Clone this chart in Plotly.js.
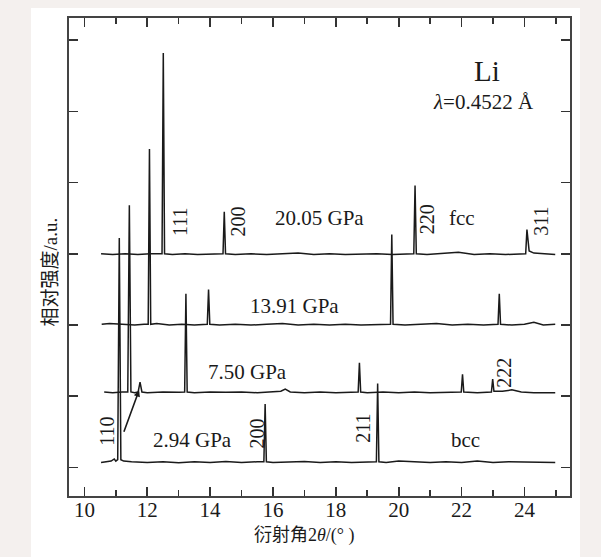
<!DOCTYPE html>
<html>
<head>
<meta charset="utf-8">
<script src="https://cdn.plot.ly/plotly-3.0.1.min.js"></script>
<style>html,body{margin:0;padding:0;background:#f4f0ee;}#chart{width:601px;height:557px;}</style>
</head>
<body>
<div id="chart"></div>
<script>
// 2.94 GPa (bcc)
const x294 = [10.53,10.7,10.85,10.95,11.0,11.06,11.11,11.16,11.25,11.5,12.0,12.5,13.0,13.5,14.0,14.5,15.0,15.5,15.71,15.75,15.79,16.0,16.5,17.0,17.5,18.0,18.5,19.0,19.29,19.33,19.37,19.6,20.0,20.5,21.0,21.5,22.0,22.5,23.0,23.5,24.0,24.5,24.98];
const y294 = [0.07,0.08,0.09,0.12,0.09,0.11,3.22,0.11,0.09,0.08,0.07,0.08,0.065,0.08,0.07,0.085,0.07,0.08,0.08,0.89,0.08,0.07,0.08,0.085,0.07,0.08,0.07,0.08,0.08,1.18,0.08,0.07,0.09,0.08,0.07,0.08,0.07,0.09,0.07,0.08,0.075,0.08,0.07];
// 7.50 GPa
const x750 = [10.63,10.9,11.2,11.38,11.43,11.48,11.6,11.71,11.77,11.83,12.0,12.5,13.0,13.19,13.23,13.27,13.5,14.0,14.5,15.0,15.5,16.0,16.25,16.39,16.55,17.0,17.5,18.0,18.5,18.71,18.75,18.79,19.0,19.5,20.0,20.5,21.0,21.5,21.99,22.03,22.07,22.5,22.95,22.99,23.03,23.3,23.6,23.9,24.3,24.98];
const y750 = [1.06,1.05,1.06,1.06,3.68,1.06,1.05,1.06,1.20,1.06,1.05,1.06,1.055,1.06,2.44,1.06,1.05,1.06,1.055,1.06,1.05,1.06,1.07,1.10,1.06,1.05,1.06,1.05,1.06,1.06,1.47,1.06,1.05,1.06,1.05,1.06,1.05,1.06,1.06,1.31,1.06,1.05,1.06,1.24,1.07,1.07,1.09,1.06,1.05,1.05];
// 13.91 GPa
const x1391 = [10.55,10.8,11.2,11.6,11.9,12.03,12.07,12.11,12.3,12.7,13.1,13.5,13.91,13.95,13.99,14.3,14.8,15.3,15.8,16.3,16.8,17.3,17.8,18.3,18.8,19.3,19.74,19.78,19.82,20.2,20.7,21.2,21.7,22.2,22.7,23.16,23.2,23.24,23.6,24.0,24.3,24.6,24.98];
const y1391 = [2.01,2.02,2.01,2.0,2.01,2.01,4.47,2.01,2.02,2.0,2.01,2.0,2.01,2.50,2.01,2.0,2.01,2.0,2.01,2.02,2.0,2.01,2.0,2.01,2.0,2.01,2.01,3.27,2.01,2.0,2.01,2.02,2.0,2.01,2.0,2.01,2.44,2.01,2.0,2.01,2.04,2.0,2.01];
// 20.05 GPa (fcc)
const x2005 = [10.53,10.9,11.3,11.7,12.1,12.47,12.51,12.55,12.8,13.2,13.6,14.0,14.41,14.45,14.49,14.8,15.3,15.8,16.3,16.8,17.3,17.8,18.3,18.8,19.3,19.8,20.2,20.48,20.52,20.56,20.9,21.4,21.9,22.4,22.9,23.4,23.8,24.04,24.08,24.15,24.3,24.6,24.98];
const y2005 = [3.0,2.99,3.0,2.99,3.0,3.0,5.82,3.0,2.99,3.0,2.99,3.0,3.0,3.59,3.0,2.99,3.0,2.99,3.0,3.01,2.99,3.0,2.99,3.0,3.0,2.99,3.0,3.0,3.96,3.0,2.99,3.0,3.02,2.99,3.0,2.99,3.0,3.0,3.34,3.04,3.01,3.0,2.99];

const series = [[x294,y294],[x750,y750],[x1391,y1391],[x2005,y2005]];
const xTicks = [10,12,14,16,18,20,22,24];
const yTicks = [0,1,2,3,4,5,6];

const pressureLabels = ['2.94 GPa','7.50 GPa','13.91 GPa','20.05 GPa'];
const pressureX = [13.43,15.18,16.67,17.47];
const pressureY = [0.38,1.34,2.27,3.50];
const hklLabels = ['110','200','211','222','111','200','220','311'];
const hklX = [10.74,15.50,18.88,23.35,13.02,14.90,20.89,24.52];
const hklY = [0.51,0.48,0.55,1.33,3.45,3.46,3.48,3.46];

const serif = 'Liberation Serif';
const ink = '#1a1a1a';
const traces = series.map(s => ({
  x: s[0], y: s[1], type: 'scatter', mode: 'lines',
  line: {color: ink, width: 1.5}, hoverinfo: 'none', showlegend: false
}));

const ann = [];
const txt = (x, y, t, size, angle) => ({x, y, xref:'x', yref:'y', text:t, textangle: angle || 0, showarrow:false,
  xanchor:'center', yanchor:'middle', font:{family:serif, size:size, color:ink}});
pressureLabels.forEach((t,i) => ann.push(txt(pressureX[i], pressureY[i], t, 21)));
hklLabels.forEach((t,i) => ann.push(txt(hklX[i], hklY[i], t, 20, -90)));
ann.push(txt(22.01, 3.50, 'fcc', 21));
ann.push(txt(22.13, 0.39, 'bcc', 21));
ann.push(txt(22.80, 5.56, 'Li', 29));
ann.push(txt(22.69, 5.13, '<i>λ</i>=0.4522 Å', 21));
ann.push({x:11.74, y:1.085, ax:11.24, ay:0.48, xref:'x', yref:'y', axref:'x', ayref:'y', text:'', showarrow:true, arrowhead:2, arrowsize:0.8, arrowwidth:1.6, arrowcolor:ink});
ann.push({x:0.471, y:-0.082, xref:'paper', yref:'paper', xanchor:'center', yanchor:'middle', text:'衍射角2<i>θ</i>/(° )', showarrow:false, font:{family:'Liberation Serif, Noto Sans CJK SC',size:18,color:ink}});
ann.push({x:-0.0379, y:0.4676, xref:'paper', yref:'paper', xanchor:'center', yanchor:'middle', text:'相对强度/a.u.', textangle:-90, showarrow:false, font:{family:'Liberation Serif, Noto Sans CJK SC',size:19,color:ink}});

const layout = {
  width: 601, height: 557,
  margin: {l:69, r:31, t:18, b:61},
  paper_bgcolor: '#f4f0ee', plot_bgcolor: '#ffffff',
  showlegend: false,
  xaxis: {range:[9.51,25.45], tickvals: xTicks, ticktext: xTicks.map(String), ticks:'inside', ticklen:9, tickwidth:1.6, tickcolor:'#333',
    ticklabelstandoff: -6,
    minor:{dtick:1, tick0:0, ticks:'inside', ticklen:6, tickwidth:1.6, tickcolor:'#333'},
    showline:true, linecolor:'#444', linewidth:2, mirror:'ticks', showgrid:false, zeroline:false,
    tickfont:{family:serif,size:21,color:ink}},
  yaxis: {range:[-0.40,6.31], tickvals: yTicks, ticks:'inside', ticklen:9, tickwidth:1.6, tickcolor:'#333', showticklabels:false,
    showline:true, linecolor:'#444', linewidth:2, mirror:'ticks', showgrid:false, zeroline:false},
  shapes: [{type:'rect', xref:'paper', yref:'paper', x0:-0.0758, x1:1.02, y0:-0.2, y1:1.021, fillcolor:'#ffffff', line:{width:0}, layer:'below'}],
  annotations: ann
};
Plotly.newPlot('chart', traces, layout, {displayModeBar:false, staticPlot:true});
</script>
</body>
</html>
